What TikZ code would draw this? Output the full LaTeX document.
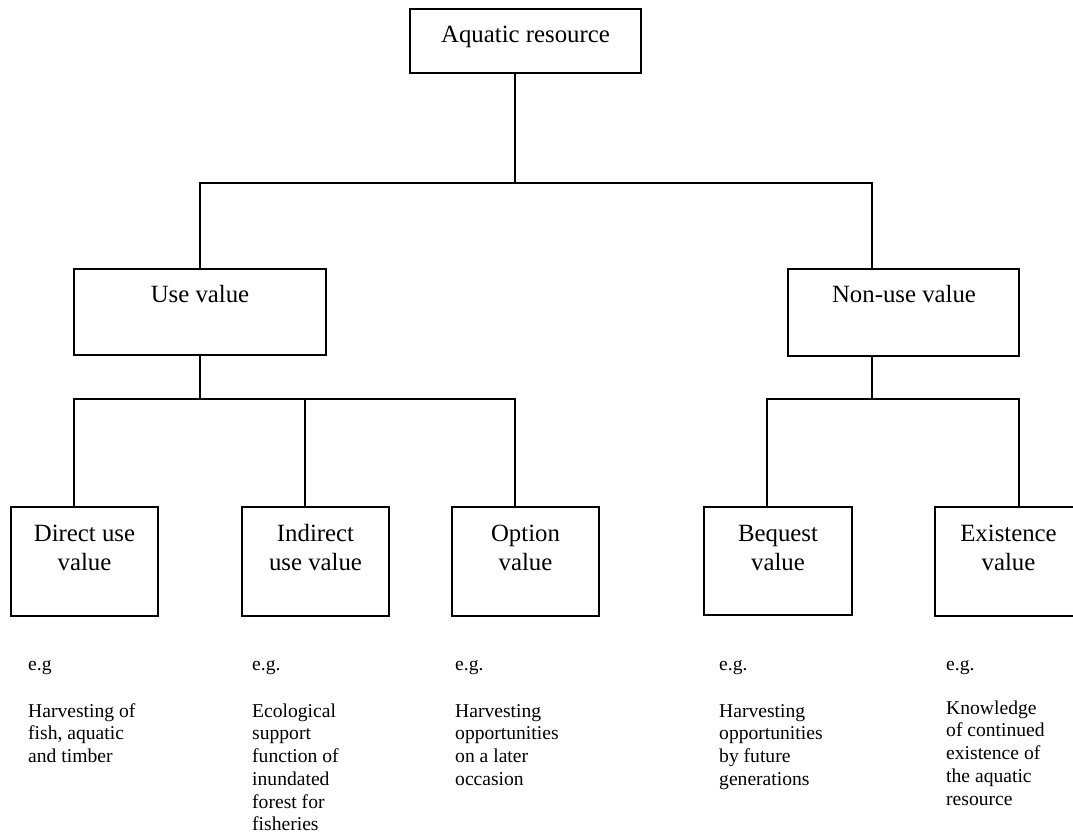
\documentclass[tikz,border=0pt]{standalone}
\usepackage{fontspec}
\setmainfont{Liberation Serif}
\begin{document}
\begin{tikzpicture}[x=1pt,y=-1pt,
  box/.style={draw, line width=1.5pt, inner sep=0pt, minimum width=#1},
  conn/.style={line width=1.5pt},
  boxtext/.style={inner sep=0pt, align=center, font=\fontsize{24.8}{29}\selectfont},
  note/.style={inner sep=0pt, align=left, anchor=north west, font=\fontsize{19.6}{22.7}\selectfont}]
\useasboundingbox (0,0) rectangle (1073,834);
\clip (0,0) rectangle (1073,834);
% boxes
\node[box=231, minimum height=64] (top) at (525.5,41) {};
\node[box=252, minimum height=86] (use) at (200,312) {};
\node[box=231, minimum height=87] (nonuse) at (903.5,312.5) {};
\node[box=147, minimum height=109] (direct) at (84.5,561.5) {};
\node[box=147, minimum height=109] (indirect) at (315.5,561.5) {};
\node[box=147, minimum height=109] (option) at (525.5,561.5) {};
\node[box=148, minimum height=108] (bequest) at (778,561) {};
\node[box=147, minimum height=109] (existence) at (1008.5,561.5) {};
% box texts
\node[boxtext, anchor=base] (topT) at (525.5,43) {Aquatic resource};
\node[boxtext, anchor=base] (useT) at (200,302) {Use value};
\node[boxtext, anchor=base] (nonuseT) at (904,302) {Non-use value};
\node[boxtext, anchor=north] (directT) at (84.5,517) {\rule{0pt}{24pt}Direct use\\value};
\node[boxtext, anchor=north] (indirectT) at (315.5,517) {\rule{0pt}{24pt}Indirect\\use value};
\node[boxtext, anchor=north] (optionT) at (525.5,517) {\rule{0pt}{24pt}Option\\value};
\node[boxtext, anchor=north] (bequestT) at (778,517) {\rule{0pt}{24pt}Bequest\\value};
\node[boxtext, anchor=north] (existenceT) at (1008.5,517) {\rule{0pt}{24pt}Existence\\value};
% junction coordinates
\coordinate (j1) at (515,183);
\coordinate (j2) at (200,399);
\coordinate (j3) at (872,399);
\coordinate (xd) at (74,0);
\coordinate (xi) at (305,0);
\coordinate (xo) at (515,0);
\coordinate (xb) at (767,0);
\coordinate (xe) at (1019,0);
% connectors
\draw[conn] (top.south -| j1) -- (j1);
\draw[conn] (use.north) |- (j1) -| (nonuse.north -| j3);
\draw[conn] (use.south) -- (j2);
\draw[conn] (direct.north -| xd) |- (j2) -| (option.north -| xo);
\draw[conn] (j2 -| xi) -- (indirect.north -| xi);
\draw[conn] (nonuse.south -| j3) -- (j3);
\draw[conn] (bequest.north -| xb) |- (j3) -| (existence.north -| xe);
% notes
\node[note] (n1) at (28,655) {\rule{0pt}{15pt}e.g};
\node[note] (n2) at (252,655) {\rule{0pt}{15pt}e.g.};
\node[note] (n3) at (455,655) {\rule{0pt}{15pt}e.g.};
\node[note] (n4) at (719,655) {\rule{0pt}{15pt}e.g.};
\node[note] (n5) at (946,655) {\rule{0pt}{15pt}e.g.};
\node[note] (d1) at (28,702) {\rule{0pt}{15pt}Harvesting of\\fish, aquatic\\and timber};
\node[note] (d2) at (252,702) {\rule{0pt}{15pt}Ecological\\support\\function of\\inundated\\forest for\\fisheries};
\node[note] (d3) at (455,702) {\rule{0pt}{15pt}Harvesting\\opportunities\\on a later\\occasion};
\node[note] (d4) at (719,702) {\rule{0pt}{15pt}Harvesting\\opportunities\\by future\\generations};
\node[note] (d5) at (946,699) {\rule{0pt}{15pt}Knowledge\\of continued\\existence of\\the aquatic\\resource};
\end{tikzpicture}
\end{document}
